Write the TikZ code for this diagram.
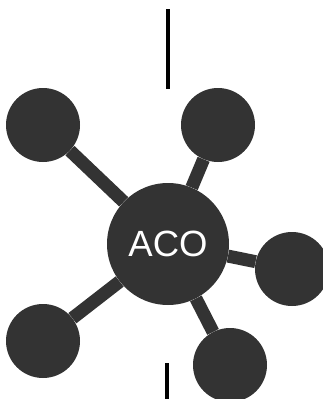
\documentclass[tikz,border=0pt]{standalone}
\usepackage{fontspec}
\setmainfont{Liberation Sans}
\usetikzlibrary{positioning}
\definecolor{hubgray}{HTML}{333333}

\begin{document}
\begin{tikzpicture}[x=1pt, y=-1pt,
    hub/.style={circle, fill=hubgray, inner sep=0pt, minimum size=122pt,
      text=white, font=\fontsize{36.5}{40}\selectfont},
    sat/.style={circle, fill=hubgray, inner sep=0pt, minimum size=74pt},
    spoke/.style={draw=hubgray, line width=13pt}]
      % --- Frame ---
      \useasboundingbox (0,0) rectangle (323,399);
      \clip (0,0) rectangle (323,399);

      % --- Marks above and below ---
      \coordinate (t1) at (168,9);
      \coordinate (t2) at (168,89);
      \coordinate (b1) at (167,363);
      \coordinate (b2) at (167,402);
      \draw[black, line width=4pt] (t1) -- (t2);
      \draw[black, line width=4pt] (b1) -- (b2);

      % --- Hub and satellites ---
      \node[hub] (aco) at (168,244) {ACO};
      \node[sat] (s1) at (43,125) {};
      \node[sat] (s2) at (218,125) {};
      \node[sat] (s3) at (292,269) {};
      \node[sat] (s4) at (43,341) {};
      \node[sat] (s5) at (230,365) {};

      % --- Spokes ---
      \foreach \s in {s1,s2,s3,s4,s5}
        \draw[spoke] (aco) -- (\s);
\end{tikzpicture}
\end{document}
